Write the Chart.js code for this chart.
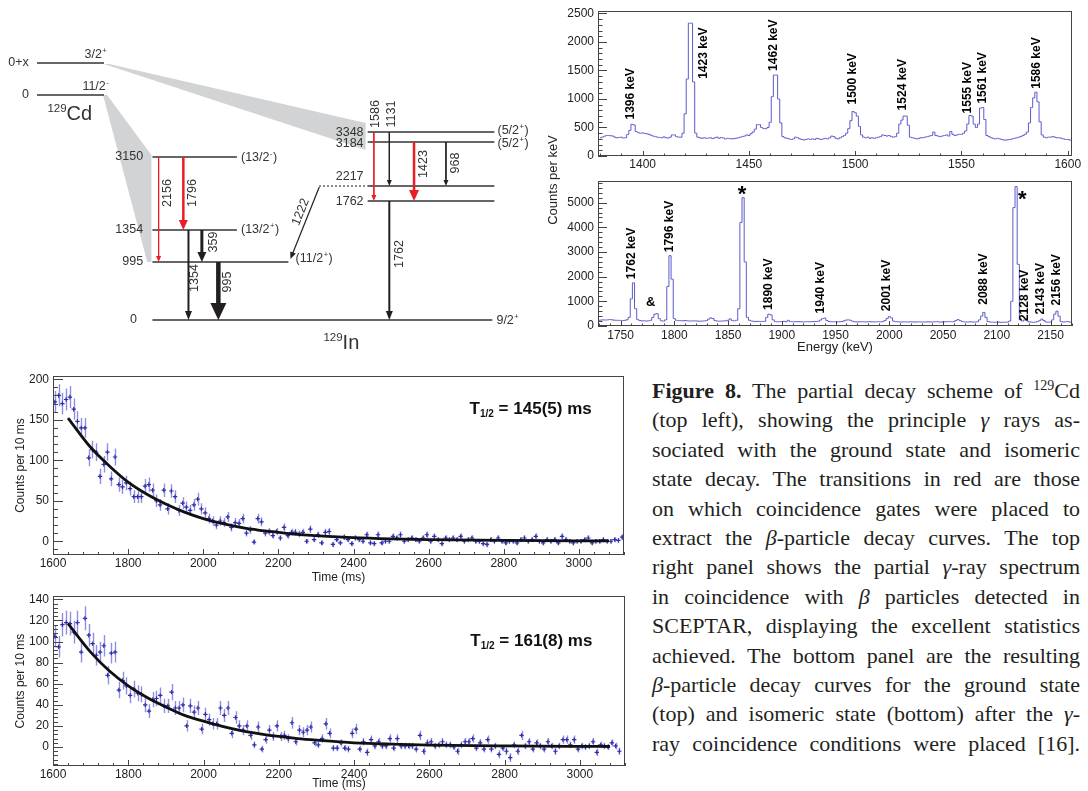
<!DOCTYPE html>
<html>
<head>
<meta charset="utf-8">
<script src="https://cdn.jsdelivr.net/npm/chart.js@4.4.0/dist/chart.umd.min.js"></script>
<style>
  body { margin:0; background:#fff; width:1088px; height:791px; position:relative; overflow:hidden; }
  canvas { position:absolute; }
  #specTitle { position:absolute; left:493px; top:172px; width:120px; height:16px; line-height:16px; text-align:center;
    font:13px "Liberation Sans", Arial, sans-serif; color:#222; transform:rotate(-90deg); }
  #caption { position:absolute; left:652px; top:376px; width:428px; font-family:"Liberation Serif","Times New Roman",serif;
    font-size:22px; color:#231f20; }
  #caption div { height:29.4px; line-height:29.4px; text-align:justify; text-align-last:justify; }
  #caption sup { font-size:14px; line-height:0; vertical-align:0; position:relative; top:-8px; }
</style>
</head>
<body>
<canvas id="scheme" width="540" height="350" style="left:0;top:0"></canvas>
<canvas id="spec1" width="548" height="172" style="left:540px;top:0"></canvas>
<canvas id="spec2" width="548" height="185" style="left:540px;top:170px"></canvas>
<canvas id="decay1" width="640" height="225" style="left:0;top:360px"></canvas>
<canvas id="decay2" width="640" height="206" style="left:0;top:585px"></canvas>
<div id="specTitle">Counts per keV</div>
<div id="caption">
<div><b>Figure 8.</b> The partial decay scheme of <sup>129</sup>Cd</div>
<div>(top left), showing the principle <i>γ</i> rays as-</div>
<div>sociated with the ground state and isomeric</div>
<div>state decay. The transitions in red are those</div>
<div>on which coincidence gates were placed to</div>
<div>extract the <i>β</i>-particle decay curves. The top</div>
<div>right panel shows the partial <i>γ</i>-ray spectrum</div>
<div>in coincidence with <i>β</i> particles detected in</div>
<div>SCEPTAR, displaying the excellent statistics</div>
<div>achieved. The bottom panel are the resulting</div>
<div><i>β</i>-particle decay curves for the ground state</div>
<div>(top) and isomeric state (bottom) after the <i>γ</i>-</div>
<div>ray coincidence conditions were placed [16].</div>
</div>
<script>
// ---- decay scheme of 129Cd -> 129In ----
var parentStates = ["0+x", "0"];
var parentSpins = ["3/2+", "11/2-"];
var levelEnergies = [3348, 3184, 3150, 2217, 1762, 1354, 995, 0];
var levelSpins = ["(5/2+)", "(5/2+)", "(13/2-)", "", "", "(13/2+)", "(11/2+)", "9/2+"];
var gammaEnergies = [2156, 1796, 359, 1354, 995, 1222, 1586, 1131, 1423, 968, 1762];
var gammaFrom = [3150, 3150, 1354, 1354, 995, 2217, 3348, 3348, 3184, 3184, 1762];
var gammaTo = [995, 1354, 995, 0, 0, 995, 1762, 2217, 1762, 2217, 0];
var gammaGated = [2156, 1796, 1586, 1423];

// ---- beta-gated gamma spectrum, 1 keV bins (top) and 2 keV bins (bottom) ----
var spec1Start = 1380, spec1Width = 1;
var spec1Counts = [
  320, 330, 345, 360, 360, 355, 350, 330, 320, 325,
  330, 315, 320, 380, 450, 555, 545, 430, 410, 400,
  405, 395, 390, 380, 365, 350, 340, 330, 325, 320,
  335, 320, 315, 330, 370, 370, 340, 330, 330, 400,
  740, 1350, 2330, 2330, 1300, 400, 330, 320, 310, 320,
  310, 315, 320, 305, 320, 330, 310, 325, 315, 300,
  310, 305, 300, 305, 310, 320, 330, 340, 350, 370,
  360, 390, 420, 470, 550, 550, 500, 480, 480, 500,
  590, 1040, 1420, 1420, 1000, 580, 340, 320, 310, 300,
  290, 300, 330, 320, 300, 290, 280, 290, 300, 290,
  300, 290, 310, 300, 290, 300, 310, 300, 320, 350,
  340, 310, 300, 320, 340, 360, 400, 480, 620, 780,
  760, 700, 520, 370, 330, 320, 330, 310, 320, 310,
  320, 330, 340, 370, 360, 350, 360, 340, 330, 340,
  400, 560, 630, 700, 700, 540, 330, 320, 310, 300,
  310, 320, 320, 330, 340, 350, 360, 420, 360, 350,
  340, 350, 360, 370, 350, 430, 380, 360, 370, 380,
  380, 400, 440, 560, 710, 700, 560, 500, 560, 840,
  850, 640, 360, 340, 320, 310, 300, 310, 300, 290,
  280, 280, 285, 290, 300, 310, 320, 330, 340, 360,
  380, 420, 580, 850, 1020, 1120, 950, 600, 370, 330,
  320, 330, 330, 340, 330, 320, 320, 310, 300, 290,
  290, 280, 280
];
var spec1Peaks = ["1396 keV", "1423 keV", "1462 keV", "1500 keV", "1524 keV", "1555 keV", "1561 keV", "1586 keV"];

var spec2Start = 1730, spec2Width = 2;
var spec2Counts = [
  230, 240, 250, 240, 250, 260, 250, 240, 230, 230,
  225, 220, 230, 250, 350, 1100, 1750, 700, 260, 220,
  210, 210, 200, 210, 230, 350, 480, 500, 300, 210,
  200, 250, 1600, 2850, 1900, 300, 230, 220, 215, 210,
  220, 210, 205, 200, 210, 205, 200, 195, 200, 205,
  220, 280, 330, 300, 220, 200, 195, 200, 205, 210,
  230, 290, 220, 210, 230, 700, 4200, 5200, 2600, 350,
  230, 200, 190, 185, 190, 180, 185, 190, 350, 480,
  450, 250, 180, 170, 175, 180, 190, 175, 230, 180,
  175, 170, 180, 175, 170, 165, 175, 180, 170, 175,
  180, 185, 190, 240, 300, 320, 220, 180, 175, 170,
  170, 165, 175, 180, 210, 240, 250, 230, 190, 170,
  165, 170, 175, 170, 165, 170, 175, 170, 165, 170,
  175, 170, 180, 220, 300, 380, 330, 200, 175, 170,
  165, 160, 170, 165, 160, 170, 165, 160, 165, 170,
  165, 160, 165, 170, 165, 160, 170, 175, 165, 160,
  165, 170, 175, 180, 175, 170, 220, 260, 220, 180,
  165, 160, 165, 170, 160, 165, 170, 250, 400, 550,
  350, 180, 160, 155, 150, 155, 160, 150, 155, 150,
  160, 200, 1000, 4800, 5650, 2500, 250, 200, 250, 220,
  170, 160, 150, 155, 180, 220, 280, 220, 160, 155,
  160, 250, 480, 600, 400, 180, 160, 170, 180, 160,
  150
];
var spec2Peaks = ["1762 keV", "&", "1796 keV", "*", "1890 keV", "1940 keV", "2001 keV", "2088 keV", "*", "2128 keV", "2143 keV", "2156 keV"];

// ---- beta decay curves, 10 ms bins starting at 1605 ms ----
var decayStart = 1605, decayWidth = 10;
var decay1Counts = [
  172, 180, 170, 175, 178, 163, 148, 140, 140, 103,
  113, 110, 80, 95, 110, 77, 104, 70, 67, 72,
  65, 55, 55, 55, 68, 70, 63, 50, 45, 63,
  40, 62, 55, 38, 47, 42, 38, 45, 52, 40,
  35, 28, 25, 20, 25, 23, 30, 17, 23, 22,
  28, 10, 14, -1, 28, 24, 10, 12, 7, 12,
  4, 17, 7, 11, 11, 9, 11, 0, 15, 2,
  8, -2, 11, 12,
  -4, 2, -2, 5, 2, -3, 4, 2, 0, 8,
  -2, -3, 8, -2, 0, 0, 6, 4, 8, 0,
  2, 4, 2, 0, 4, 8, 0, 6, 2, -3,
  4, 2, 4, 2, 6, 0, 2, 4, 0, 0,
  -3, -4, 2, 0, 4, 0, -2, 0, 0, -2,
  2, 4, 0, 2, 6, 0, -2, 2, 0, 2,
  -2, 6, 2, 0, -2, 0, 0, 2, 4, -2,
  0, 0, 2, 0, 0, 2, 1, 5
];
var decay2Counts = [
  105, 95, 116, 118, 117, 109, 118, 90, 122, 106,
  98, 87, 90, 96, 68, 89, 90, 54, 63, 58,
  49, 55, 51, 50, 40, 34, 45, 46, 49, 39,
  39, 52, 37, 37, 40, 20, 39, 33, 37, 17,
  31, 26, 22, 22, 37, 30, 37, 13, 28, 20,
  16, 20, 11, 2, 19, -2, 7, 16, 10, 20,
  10, 11, 8, 23, 5, 16, 14, 16, 19, 4,
  2, 8, 22, 13,
  -1, -1, 4, -1, -2, 13, 17, -2, 5, -5,
  7, 1, 5, 1, 1, 8, -1, 8, 1, 1,
  1, 1, -2, 11, -4, 4, 5, 1, 2, 5,
  2, 2, 0, -4, 2, 5, 5, 8, -1, 4,
  -2, 7, -2, 1, -7, -1, -4, -10, 2, -4,
  11, 1, 5, -2, 4, 1, -2, 5, 1, -4,
  1, 7, 7, 2, 7, -2, 1, 0, 1, 5,
  -5, 2, 1, 0, 4, 1, -4
];
// exponential fits
var fitTimes = [1640, 1700, 1750, 1800, 1850, 1900, 1950, 2000, 2050, 2100, 2150, 2200, 2250, 2300, 2400, 2500, 2600, 2800, 3000, 3080];
var decay1Fit = [152, 116, 93, 73, 58, 46, 36, 28, 22, 17, 13.5, 11, 8.5, 7, 4.5, 3, 2, 1, 0.5, 0.5];
var decay2Fit = [117, 90, 72, 58, 47, 38, 30, 24.5, 19.5, 15.5, 12.5, 10, 8, 6.5, 4, 2.7, 1.8, 1, 0.6, 0.5];
var halfLives = ["145(5)", "161(8)"];

var SANS = '"Liberation Sans", Arial, Helvetica, sans-serif';
var RED = "#ec1c24", INK = "#231f20", TXT = "#333";
Chart.defaults.font.family = SANS;
Chart.defaults.color = "#222";
Chart.defaults.animation = false;
Chart.defaults.events = [];
Chart.defaults.plugins.legend.display = false;
Chart.defaults.plugins.tooltip.enabled = false;

// ---------- shared ROOT-like frame with inward ticks ----------
function rootAxes(c) {
  return {
    id: "rootAxes",
    afterDraw: function (chart) {
      var ctx = chart.ctx, a = chart.chartArea, sx = chart.scales.x, sy = chart.scales.y;
      ctx.save();
      ctx.strokeStyle = "#444";
      ctx.lineWidth = 1;
      ctx.beginPath();
      function ticks(scale, step, len) {
        var n0 = Math.ceil(scale.min / step - 1e-9), n1 = Math.floor(scale.max / step + 1e-9);
        for (var n = n0; n <= n1; n++) {
          var p = Math.round(scale.getPixelForValue(n * step)) + 0.5;
          if (scale.axis === "x") { ctx.moveTo(p, a.bottom); ctx.lineTo(p, a.bottom - len); }
          else { ctx.moveTo(a.left, p); ctx.lineTo(a.left + len, p); }
        }
      }
      ticks(sx, c.xMinor, c.xLen / 2);
      ticks(sx, c.xMajor, c.xLen);
      ticks(sy, c.yMinor, c.yLen / 2);
      ticks(sy, c.yMajor, c.yLen);
      ctx.stroke();
      ctx.strokeRect(Math.round(a.left) + 0.5, Math.round(a.top) + 0.5, Math.round(a.width) - 1, Math.round(a.height) - 1);
      ctx.restore();
    }
  };
}

function axis(min, max, step, size, pad, title) {
  return {
    type: "linear", min: min, max: max,
    grid: { display: false, drawTicks: false }, border: { display: false },
    ticks: { autoSkip: false, maxRotation: 0, padding: pad, font: { size: 12 },
             callback: function (v) { return String(v); } },
    title: title || { display: false },
    afterBuildTicks: function (s) {
      var t = [];
      for (var n = Math.ceil(min / step - 1e-9); n <= Math.floor(max / step + 1e-9); n++) t.push({ value: n * step });
      s.ticks = t;
    },
    afterFit: function (s) { if (s.isHorizontal()) s.height = size; else s.width = size; }
  };
}

// ---------- spectra ----------
function peakLabels(names, at) {
  return {
    id: "peakLabels",
    afterDatasetsDraw: function (chart) {
      var ctx = chart.ctx, sx = chart.scales.x, sy = chart.scales.y;
      names.forEach(function (name, i) {
        var px = sx.getPixelForValue(at[i][0]), py = sy.getPixelForValue(at[i][1]);
        ctx.save();
        ctx.fillStyle = "#000";
        if (name.length > 1) {
          ctx.font = "bold 12px " + SANS;
          ctx.translate(px, py);
          ctx.rotate(-Math.PI / 2);
          ctx.textAlign = "left";
          ctx.textBaseline = "middle";
          ctx.fillText(name, 0, 0);
        } else if (name === "*") {
          ctx.font = "bold 22px " + SANS;
          ctx.textAlign = "center";
          ctx.textBaseline = "alphabetic";
          ctx.fillText(name, px, py + 12);
        } else {
          ctx.font = "bold 13px " + SANS;
          ctx.textAlign = "center";
          ctx.textBaseline = "middle";
          ctx.fillText(name, px, py);
        }
        ctx.restore();
      });
    }
  };
}

function histPoints(start, width, counts) {
  return counts.map(function (v, i) { return { x: start + i * width, y: v }; });
}

function spectrum(id, pts, xr, yr, yStep, pad, xTitle, names, at) {
  return new Chart(document.getElementById(id), {
    type: "line",
    data: { datasets: [{ data: pts, borderColor: "#5a5acd", borderWidth: 1, pointRadius: 0, stepped: "middle", fill: false }] },
    options: {
      responsive: false,
      layout: { padding: pad.layout },
      scales: {
        x: axis(xr[0], xr[1], 50, pad.xh, pad.xp, xTitle),
        y: axis(yr[0], yr[1], yStep, 58, 4)
      }
    },
    plugins: [rootAxes({ xMajor: 50, xMinor: 10, xLen: 5, yMajor: yStep, yMinor: yStep / 5, yLen: 9 }), peakLabels(names, at)]
  });
}

spectrum("spec1", histPoints(spec1Start, spec1Width, spec1Counts), [1379, 1602], [0, 2540], 500,
  { layout: { top: 10, right: 16, left: 0, bottom: 0 }, xh: 16, xp: 1 }, null, spec1Peaks,
  [[1394.4, 640], [1428.6, 1354], [1461.5, 1493], [1498.6, 903], [1522.5, 800], [1553, 746], [1560, 920], [1585.5, 1180]]);

spectrum("spec2", histPoints(spec2Start, spec2Width, spec2Counts), [1729, 2170], [0, 5870], 1000,
  { layout: { top: 7, right: 16, left: 0, bottom: 0 }, xh: 29, xp: 2 },
  { display: true, text: "Energy (keV)", font: { size: 13 }, padding: { top: 0, bottom: 0 } }, spec2Peaks,
  [[1760, 1900], [1778, 945], [1795.3, 2990], [1863, 5550], [1887.4, 650], [1935.8, 510], [1998, 600],
   [2087.4, 860], [2123.7, 5350], [2125.6, 200], [2140.5, 470], [2155.3, 830]]);

// ---------- decay curves ----------
function decayExtras(counts, tLabel, at) {
  return {
    id: "decayExtras",
    beforeDatasetsDraw: function (chart) {
      var ctx = chart.ctx, sx = chart.scales.x, sy = chart.scales.y;
      ctx.save();
      ctx.strokeStyle = "rgba(105,105,215,0.75)";
      ctx.lineWidth = 1.4;
      ctx.beginPath();
      counts.forEach(function (v, i) {
        var t = decayStart + i * decayWidth, e = Math.sqrt(Math.abs(v) + 8);
        var px = Math.round(sx.getPixelForValue(t)) + 0.5;
        ctx.moveTo(px, sy.getPixelForValue(v - e));
        ctx.lineTo(px, sy.getPixelForValue(v + e));
      });
      ctx.stroke();
      ctx.restore();
    },
    afterDraw: function (chart) {
      var ctx = chart.ctx;
      var x = chart.scales.x.getPixelForValue(at[0]), y = chart.scales.y.getPixelForValue(at[1]);
      ctx.save();
      ctx.fillStyle = "#111";
      ctx.textAlign = "left";
      ctx.textBaseline = "middle";
      ctx.font = "bold 17px " + SANS;
      ctx.fillText("T", x, y);
      x += ctx.measureText("T").width;
      ctx.font = "bold 10px " + SANS;
      ctx.fillText("1/2", x, y + 5);
      x += ctx.measureText("1/2").width;
      ctx.font = "bold 17px " + SANS;
      ctx.fillText(" = " + tLabel + " ms", x, y);
      ctx.restore();
    }
  };
}

function decay(id, counts, fit, yr, yStep, pad, tLabel, at) {
  var pts = counts.map(function (v, i) { return { x: decayStart + i * decayWidth, y: v }; });
  var fitPts = fitTimes.map(function (t, i) { return { x: t, y: fit[i] }; });
  return new Chart(document.getElementById(id), {
    type: "scatter",
    data: { datasets: [
      { data: fitPts, showLine: true, borderColor: "#111", borderWidth: 2.8, pointRadius: 0, cubicInterpolationMode: "monotone" },
      { data: pts, pointStyle: "cross", pointRadius: 2.2, pointBorderWidth: 1.2, pointBorderColor: "#2e2ea8", pointBackgroundColor: "#2e2ea8" }
    ] },
    options: {
      responsive: false,
      layout: { padding: pad.layout },
      scales: {
        x: axis(1600, 3120, 200, pad.xh, 1, { display: true, text: "Time (ms)", font: { size: 12 }, padding: { top: 0, bottom: 0 } }),
        y: axis(yr[0], yr[1], yStep, 53, 4, { display: true, text: "Counts per 10 ms", font: { size: 12 }, padding: { top: 13, bottom: 0 } })
      }
    },
    plugins: [rootAxes({ xMajor: 200, xMinor: 40, xLen: 6, yMajor: yStep, yMinor: yStep / 5, yLen: 10 }), decayExtras(counts, tLabel, at)]
  });
}

decay("decay1", decay1Counts, decay1Fit, [-17, 204], 50,
  { layout: { top: 16, right: 16, left: 0, bottom: 0 }, xh: 30 }, halfLives[0], [2709, 163]);
decay("decay2", decay2Counts, decay2Fit, [-18, 143], 20,
  { layout: { top: 4, right: 15, left: 0, bottom: 0 }, xh: 25 }, halfLives[1], [2709, 100]);

// ---------- level scheme (diagram units; x axis stretched slightly to the page) ----------
var L = {
  parentY: { "0+x": 63, "0": 95 }, parentX: [36, 101],
  levelY: { 3348: 132, 3184: 142, 3150: 157, 2217: 186, 1762: 201, 1354: 230, 995: 262, 0: 320 },
  levelX: { 3348: [357, 480], 3184: [357, 480], 3150: [148, 230], 2217: [357, 480], 1762: [357, 480],
            1354: [148, 230], 995: [148, 280], 0: [148, 478] },
  labelRight: { 3348: [353, 1], 3184: [353, 2], 3150: [139, 0], 2217: [353, -9], 1762: [353, 1],
                1354: [139, 0], 995: [139, 0], 0: [133, 0] },
  spinLeft: { 3348: [483, -1], 3184: [483, 2], 3150: [234, 1], 1354: [234, 0], 995: [287, -3], 0: [482, 1] },
  gx: { 2156: 154, 1796: 178, 359: 196, 1354: 183, 995: 212, 1586: 363, 1131: 378, 1423: 402, 968: 433, 1762: 378 },
  gw: { 2156: 1, 1796: 2.5, 359: 3, 1354: 2, 995: 4.5, 1222: 1.2, 1586: 1, 1131: 1, 1423: 2.5, 968: 1, 1762: 2 },
  head: { 2156: [6, 2.5], 1796: [10, 4.5], 359: [10, 4.5], 1354: [9, 3.5], 995: [17, 8], 1222: [7, 3],
          1586: [6, 2.5], 1131: [6, 2.5], 1423: [11, 5], 968: [6, 2.5], 1762: [9, 3.5] },
  gLabel: { 2156: [163, 193], 1796: [187, 193], 359: [207, 242], 1354: [189, 278], 995: [221, 282], 1222: [292, 212],
            1586: [365, 114], 1131: [380, 114], 1423: [411, 164], 968: [442, 163], 1762: [388, 254] },
  diag1222: [[310, 187], [282, 259]],
  dotted2217: [310, 357],
  wedges: [
    [[100, 95], [104, 95], [147, 155], [147, 262], [143, 262]],
    [[101, 64], [106, 64], [355, 123], [355, 150]]
  ]
};

function gammaPath(g, i) {
  if (g === 1222) return L.diag1222;
  return [[L.gx[g], L.levelY[gammaFrom[i]]], [L.gx[g], L.levelY[gammaTo[i]]]];
}

var schemeSets = [];
function seg(p0, p1, color, width, dash) {
  schemeSets.push({ data: [{ x: p0[0], y: p0[1] }, { x: p1[0], y: p1[1] }], showLine: true, pointRadius: 0,
    borderColor: color, borderWidth: width, borderCapStyle: "butt", borderDash: dash || [], clip: false });
}
gammaEnergies.forEach(function (g, i) {
  var p = gammaPath(g, i), dx = p[1][0] - p[0][0], dy = p[1][1] - p[0][1], d = Math.hypot(dx, dy);
  var hl = L.head[g][0] * 0.8;
  seg(p[0], [p[1][0] - dx / d * hl, p[1][1] - dy / d * hl], gammaGated.indexOf(g) >= 0 ? RED : INK, L.gw[g]);
});
parentStates.forEach(function (s) { seg([L.parentX[0], L.parentY[s]], [L.parentX[1], L.parentY[s]], "#333", 1.4); });
levelEnergies.forEach(function (E) { seg([L.levelX[E][0], L.levelY[E]], [L.levelX[E][1], L.levelY[E]], "#333", 1.4); });
seg([L.dotted2217[0], L.levelY[2217]], [L.dotted2217[1], L.levelY[2217]], "#333", 1.4, [1.5, 2.5]);

function spinText(ctx, s, x, y, size) {
  var m = s.match(/^(.*?)([+-])(\)?)$/);
  ctx.font = size + "px " + SANS;
  ctx.fillText(m[1], x, y);
  x += ctx.measureText(m[1]).width;
  ctx.font = (size * 0.6) + "px " + SANS;
  ctx.fillText(m[2], x + 0.5, y - size * 0.35);
  x += ctx.measureText(m[2]).width + 1;
  if (m[3]) { ctx.font = size + "px " + SANS; ctx.fillText(m[3], x, y); }
}
function nucleus(ctx, mass, sym, x, y) {
  ctx.textAlign = "left";
  ctx.font = "11.5px " + SANS;
  ctx.fillText(mass, x, y - 5);
  x += ctx.measureText(mass).width;
  ctx.font = "20px " + SANS;
  ctx.fillText(sym, x, y);
}

var schemeDraw = {
  id: "schemeDraw",
  beforeDatasetsDraw: function (chart) {
    var ctx = chart.ctx, sx = chart.scales.x, sy = chart.scales.y;
    ctx.save();
    ctx.fillStyle = "#d1d3d4";
    L.wedges.forEach(function (poly) {
      ctx.beginPath();
      poly.forEach(function (p, i) {
        var px = sx.getPixelForValue(p[0]), py = sy.getPixelForValue(p[1]);
        if (i) ctx.lineTo(px, py); else ctx.moveTo(px, py);
      });
      ctx.closePath();
      ctx.fill();
    });
    ctx.restore();
  },
  afterDatasetsDraw: function (chart) {
    var ctx = chart.ctx, sx = chart.scales.x, sy = chart.scales.y;
    function X(v) { return sx.getPixelForValue(v); }
    function Y(v) { return sy.getPixelForValue(v); }
    ctx.save();
    // arrow heads
    gammaEnergies.forEach(function (g, i) {
      var p = gammaPath(g, i), tip = [X(p[1][0]), Y(p[1][1])];
      var dx = tip[0] - X(p[0][0]), dy = tip[1] - Y(p[0][1]), d = Math.hypot(dx, dy);
      var ux = dx / d, uy = dy / d, hl = L.head[g][0], hw = L.head[g][1];
      ctx.fillStyle = gammaGated.indexOf(g) >= 0 ? RED : INK;
      ctx.beginPath();
      ctx.moveTo(tip[0], tip[1]);
      ctx.lineTo(tip[0] - ux * hl - uy * hw, tip[1] - uy * hl + ux * hw);
      ctx.lineTo(tip[0] - ux * hl + uy * hw, tip[1] - uy * hl - ux * hw);
      ctx.closePath();
      ctx.fill();
    });
    ctx.fillStyle = TXT;
    ctx.textBaseline = "middle";
    // parent states
    parentStates.forEach(function (s, i) {
      ctx.font = "12.5px " + SANS;
      ctx.textAlign = "right";
      ctx.fillText(s, X(28), Y(L.parentY[s]));
      ctx.textAlign = "left";
      spinText(ctx, parentSpins[i], X(i ? 80 : 82), Y(L.parentY[s] - 8), 12.5);
    });
    nucleus(ctx, "129", "Cd", X(46), Y(114));
    nucleus(ctx, "129", "In", X(314), Y(343));
    // daughter levels
    levelEnergies.forEach(function (E, i) {
      var lr = L.labelRight[E];
      ctx.font = "12.5px " + SANS;
      ctx.textAlign = "right";
      ctx.fillText(String(E), X(lr[0]), Y(L.levelY[E] + lr[1]));
      if (levelSpins[i]) {
        var sl = L.spinLeft[E];
        ctx.textAlign = "left";
        spinText(ctx, levelSpins[i], X(sl[0]), Y(L.levelY[E] + sl[1]), 12.5);
      }
    });
    // gamma energies
    gammaEnergies.forEach(function (g) {
      var c = L.gLabel[g];
      ctx.save();
      ctx.translate(X(c[0]), Y(c[1]));
      ctx.rotate(g === 1222 ? -68 * Math.PI / 180 : -Math.PI / 2);
      ctx.font = "12.5px " + SANS;
      ctx.textAlign = "center";
      ctx.fillText(String(g), 0, 0);
      ctx.restore();
    });
    ctx.restore();
  }
};

new Chart(document.getElementById("scheme"), {
  type: "scatter",
  data: { datasets: schemeSets },
  options: {
    responsive: false,
    layout: { padding: 0 },
    scales: {
      x: { type: "linear", display: false, min: 0, max: 524.3 },
      y: { type: "linear", display: false, min: 0, max: 350, reverse: true }
    }
  },
  plugins: [schemeDraw]
});
</script>
</body>
</html>
